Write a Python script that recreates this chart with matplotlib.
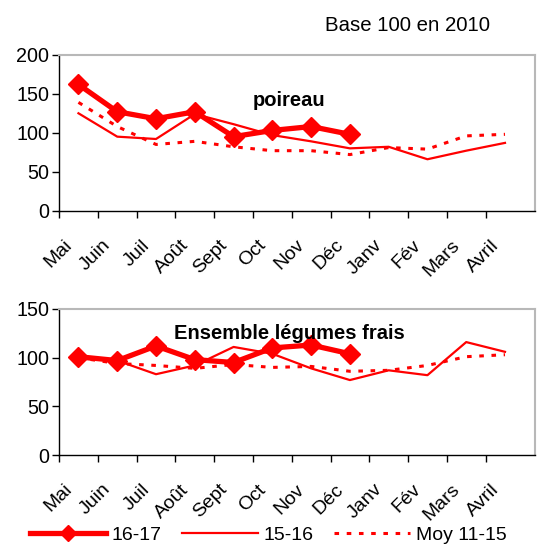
import matplotlib
matplotlib.use("Agg")
import matplotlib.pyplot as plt
from matplotlib.lines import Line2D

months = ["Mai", "Juin", "Juil", "Août", "Sept", "Oct", "Nov", "Déc", "Janv", "Fév", "Mars", "Avril"]

poireau_1617 = [162, 127, 118, 127, 95, 103, 108, 98]
poireau_1516 = [125, 95, 92, 124, 111, 97, 89, 80, 82, 66, 77, 87]
poireau_moy = [139, 108, 85, 89, 82, 77, 77, 72, 81, 79, 96, 98]

ens_1617 = [101, 97, 112, 98, 95, 110, 113, 104]
ens_1516 = [99, 97, 83, 92, 111, 104, 89, 77, 87, 82, 116, 106]
ens_moy = [100, 94, 92, 89, 93, 90, 91, 86, 87, 92, 101, 103]

plt.rcParams['font.family'] = ['Liberation Sans', 'DejaVu Sans']
RED = '#ff0000'

fig = plt.figure(figsize=(5.37, 5.44), dpi=100)
fig.patch.set_facecolor('white')

def draw(ax, s1617, s1516, smoy, ymax, title, tx, ty):
    x_all = list(range(len(months)))
    ax.plot(x_all[:len(smoy)], smoy, color=RED, lw=2.2, linestyle=(0, (1.5, 2.5)), solid_capstyle='butt')
    ax.plot(x_all[:len(s1516)], s1516, color=RED, lw=1.6)
    ax.plot(x_all[:len(s1617)], s1617, color=RED, lw=3.8, marker='D', markersize=10)
    ax.set_xlim(-0.5, 11.77)
    ax.set_ylim(0, ymax)
    ax.set_yticks(range(0, ymax + 1, 50))
    ax.set_xticks([i - 0.5 for i in range(12)])
    ax.set_xticklabels([])
    # label anchors sit slightly left of the category centre (as in the reference)
    ax.set_xticks([i - 0.23 for i in range(12)], minor=True)
    ax.set_xticklabels(months, minor=True, rotation=45, ha='right', va='center',
                       rotation_mode='anchor', fontsize=14)
    ax.tick_params(axis='x', which='minor', length=0, pad=23)
    ax.tick_params(axis='x', which='major', length=5, direction='out', width=1)
    ax.tick_params(axis='y', length=5, direction='out', labelsize=14.2, width=1, pad=2)
    for s in ['top', 'right']:
        ax.spines[s].set_color('#b8b8b8')
        ax.spines[s].set_linewidth(1.5)
    for s in ['left', 'bottom']:
        ax.spines[s].set_color('black')
        ax.spines[s].set_linewidth(1)
    ax.text(tx, ty, title, fontsize=14.5, fontweight='bold', transform=ax.transData, ha='center', va='center')

ax1 = fig.add_axes([0.110, 0.6127, 0.886, 0.2865])
draw(ax1, poireau_1617, poireau_1516, poireau_moy, 200, "poireau", 5.43, 141)

ax2 = fig.add_axes([0.110, 0.1636, 0.886, 0.2684])
draw(ax2, ens_1617, ens_1516, ens_moy, 150, "Ensemble légumes frais", 5.43, 125)

fig.text(0.605, 0.954, "Base 100 en 2010", fontsize=14.7, ha='left', va='center')

handles = [
    Line2D([], [], color=RED, lw=3.8, marker='D', markersize=8),
    Line2D([], [], color=RED, lw=1.6),
    Line2D([], [], color=RED, lw=2.2, linestyle=(0, (1.5, 2.5))),
]
fig.legend(handles, ["16-17", "15-16", "Moy 11-15"], loc='center', bbox_to_anchor=(0.50, 0.016),
           ncol=3, frameon=False, fontsize=14, handlelength=3.9, columnspacing=1.05, handletextpad=0.3,
           borderpad=0, borderaxespad=0)

fig.savefig("out.png", dpi=100, facecolor='white')
